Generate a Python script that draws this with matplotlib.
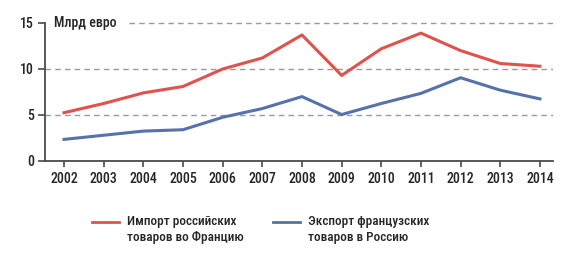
import matplotlib
matplotlib.use("Agg")
import matplotlib.pyplot as plt
from matplotlib.lines import Line2D

years = [2002, 2003, 2004, 2005, 2006, 2007, 2008, 2009, 2010, 2011, 2012, 2013, 2014]
imports_ru = [5.25, 6.25, 7.4, 8.1, 10.0, 11.2, 13.7, 9.3, 12.2, 13.9, 12.0, 10.6, 10.3]
exports_fr = [2.35, 2.8, 3.25, 3.4, 4.75, 5.7, 7.0, 5.05, 6.25, 7.35, 9.05, 7.7, 6.75]
labels = ["Импорт российских\nтоваров во Францию", "Экспорт французских\nтоваров в Россию"]
unit = "Млрд евро"

plt.rcParams["font.family"] = ["Roboto Condensed", "Roboto", "DejaVu Sans"]

red = "#e0524b"
blue = "#5572ab"
axis_col = "#4a4a4a"
text_col = "#262626"

W, H = 581, 263
fig = plt.figure(figsize=(W / 100, H / 100), dpi=100)
ax = fig.add_axes([45 / W, 1 - 161 / H, (553 - 45) / W, (161 - 23) / H])

for yv in [5, 10]:
    ax.axhline(yv, color="#9a9a9a", lw=1, ls=(0, (4, 3)), zorder=1)
ax.plot([2003.65, 2014.33], [15, 15], color="#9a9a9a", lw=1, ls=(0, (4, 3)), zorder=1, clip_on=False)

ax.plot(years, imports_ru, color=red, lw=2.2, zorder=3)
ax.plot(years, exports_fr, color=blue, lw=2.2, zorder=3)

ax.set_xlim(2001.52, 2014.33)
ax.set_ylim(0, 15)
ax.set_xticks(years)
ax.set_yticks([0, 5, 10, 15])

for s in ["top", "right"]:
    ax.spines[s].set_visible(False)
for s in ["left", "bottom"]:
    ax.spines[s].set_color(axis_col)
    ax.spines[s].set_linewidth(1.3)

ax.tick_params(axis="y", length=5, width=1.2, color=axis_col, labelsize=10, labelcolor=text_col, pad=3)
ax.tick_params(axis="x", length=4, width=1.2, color=axis_col, labelsize=10, labelcolor=text_col, pad=4)
for t in ax.get_xticklabels() + ax.get_yticklabels():
    t.set_fontweight(500)

ax.text(2001.75, 15, unit, fontsize=10, fontweight=500, va="center", ha="left", color=text_col)

# legend, drawn by hand so the line sits on the first text row
for col, lab, x0 in [(red, labels[0], 92), (blue, labels[1], 273)]:
    fig.add_artist(Line2D([x0 / W, (x0 + 27) / W], [1 - 222 / H, 1 - 222 / H], color=col, lw=2))
    fig.text((x0 + 35) / W, 1 - 215 / H, lab, fontsize=9.5, fontweight=500, color=text_col,
             va="top", ha="left", linespacing=1.35)

fig.savefig("out.png", dpi=100)
